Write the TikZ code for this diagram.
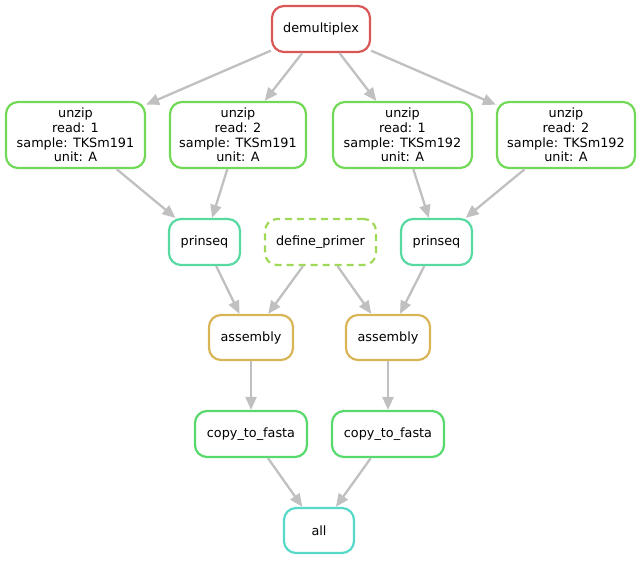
\documentclass[tikz,border=0pt]{standalone}
\usepackage{fontspec}
\setmainfont{DejaVu Sans}
\usepackage{xcolor}
\usepackage{tikz}
\usetikzlibrary{arrows.meta}
\definecolor{demuxred}{RGB}{217,87,87}
\definecolor{unzipgreen}{RGB}{113,217,87}
\definecolor{prinseqteal}{RGB}{87,217,162}
\definecolor{primerlime}{RGB}{160,217,87}
\definecolor{assemblygold}{RGB}{217,181,87}
\definecolor{fastagreen}{RGB}{87,217,108}
\definecolor{allcyan}{RGB}{87,217,201}
\definecolor{depgray}{RGB}{192,192,192}

\begin{document}
\begin{tikzpicture}[x=1pt,y=-1pt,
	rule/.style={draw,line width=2.2pt,rounded corners=12pt,fill=white,align=center,
		inner sep=2pt,minimum height=46pt,font=\fontsize{12.8}{14.7}\selectfont},
	dep/.style={draw=depgray,line width=2.3pt,-{Triangle[length=13pt,width=11pt]}}]
	        \useasboundingbox (0,0) rectangle (643,560);
	        \node[rule,draw=demuxred,minimum width=98pt] (demultiplex) at (321,29) {demultiplex};
	        \node[rule,draw=unzipgreen,minimum width=139pt,minimum height=66pt] (unzipa) at (75.5,135) {unzip\\read: 1\\sample: TKSm191\\unit: A};
	        \node[rule,draw=unzipgreen,minimum width=136pt,minimum height=66pt] (unzipb) at (238,135) {unzip\\read: 2\\sample: TKSm191\\unit: A};
	        \node[rule,draw=unzipgreen,minimum width=139pt,minimum height=66pt] (unzipc) at (402.5,135) {unzip\\read: 1\\sample: TKSm192\\unit: A};
	        \node[rule,draw=unzipgreen,minimum width=138pt,minimum height=66pt] (unzipd) at (566,135) {unzip\\read: 2\\sample: TKSm192\\unit: A};
	        \node[rule,draw=prinseqteal,minimum width=71pt] (prinseqa) at (204.5,242) {prinseq};
	        \node[rule,draw=primerlime,dash pattern=on 7pt off 5pt,minimum width=111pt] (primer) at (320.5,242) {define\_primer};
	        \node[rule,draw=prinseqteal,minimum width=71pt] (prinseqb) at (436.5,242) {prinseq};
	        \node[rule,draw=assemblygold,minimum width=84pt,minimum height=45pt] (assemblya) at (251,337.5) {assembly};
	        \node[rule,draw=assemblygold,minimum width=84pt,minimum height=45pt] (assemblyb) at (388,337.5) {assembly};
	        \node[rule,draw=fastagreen,minimum width=112pt] (fastaa) at (251,434) {copy\_to\_fasta};
	        \node[rule,draw=fastagreen,minimum width=112pt] (fastab) at (388,434) {copy\_to\_fasta};
	        \node[rule,draw=allcyan,minimum width=70pt,minimum height=45pt] (all) at (319,530.5) {all};
	        \draw[dep] (demultiplex) to (unzipa);
	        \draw[dep] (demultiplex) to (unzipb);
	        \draw[dep] (demultiplex) to (unzipc);
	        \draw[dep] (demultiplex) to (unzipd);
	        \draw[dep] (unzipa) to (prinseqa);
	        \draw[dep] (unzipb) to (prinseqa);
	        \draw[dep] (unzipc) to (prinseqb);
	        \draw[dep] (unzipd) to (prinseqb);
	        \draw[dep] (prinseqa) to (assemblya);
	        \draw[dep] (primer) to (assemblya);
	        \draw[dep] (primer) to (assemblyb);
	        \draw[dep] (prinseqb) to (assemblyb);
	        \draw[dep] (assemblya) to (fastaa);
	        \draw[dep] (assemblyb) to (fastab);
	        \draw[dep] (fastaa) to (all);
	        \draw[dep] (fastab) to (all);
	     \end{tikzpicture}
\end{document}
